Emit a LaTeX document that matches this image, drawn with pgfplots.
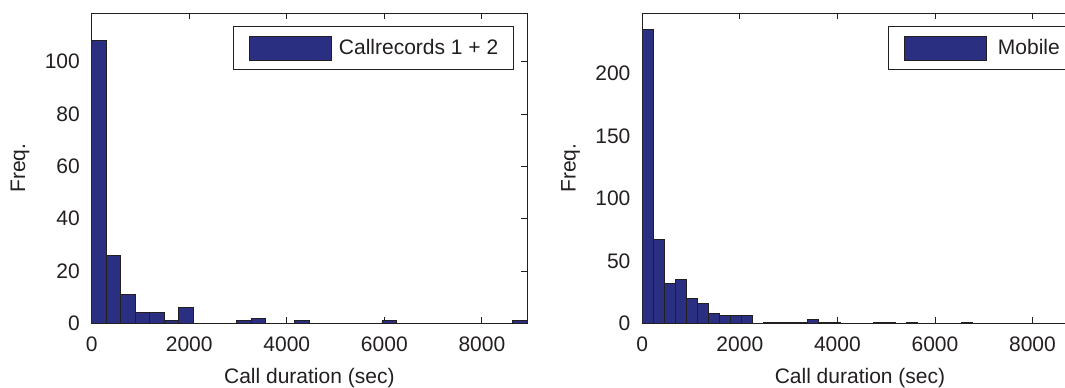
\documentclass[border=0pt]{standalone}
\usepackage{fontspec}
\setmainfont{Liberation Sans}
\usepackage{pgfplots}
\pgfplotsset{compat=1.18}
\definecolor{barblue}{RGB}{43,47,130}
\definecolor{ink}{RGB}{35,31,32}
\pgfplotsset{
  mystyle/.style={
    scale only axis,
    width=435.3pt, height=310pt,
    xmin=0, xmax=8925,
    ymin=0,
    axis line style={draw=ink, line width=0.9pt},
    tick style={draw=ink, line width=0.8pt},
    tick align=inside,
    major tick length=6pt,
    xtick={0,2000,4000,6000,8000},
    font=\fontsize{21}{25}\selectfont,
    color=ink,
    /pgf/number format/assume math mode=true,
    /pgf/number format/set thousands separator={},
    xticklabel style={anchor=base, yshift=-28.4pt, inner sep=0pt, font=\fontsize{21}{25}\selectfont},
    yticklabel style={anchor=east, xshift=-11.7pt, inner sep=0pt, font=\fontsize{21}{25}\selectfont},
    every axis x label/.style={at={(axis description cs:0.5,-0.1926)}, anchor=base, inner sep=0pt},
    every axis y label/.style={at={(axis description cs:-0.1532,0.5)}, anchor=base, rotate=90, inner sep=0pt},
    xlabel={Call duration (sec)},
    ylabel={Freq.},
    legend style={draw=ink, line width=0.9pt, inner xsep=15.5pt, inner ysep=9pt,
      font=\fontsize{21}{25}\selectfont, text=ink, cells={anchor=west},
      nodes={inner sep=0pt}},
  }
}
\begin{document}
\begin{tikzpicture}
\begin{axis}[mystyle, at={(91.7pt,64.7pt)}, anchor=south west,
  ymax=118.5, ytick={0,20,40,60,80,100},
  legend style={at={(axis description cs:0.3253,0.9587)}, anchor=north west},
  legend image code/.code={%
      \draw[fill=barblue, draw=ink, line width=0.7pt] (0pt,-12.15pt) rectangle (81.7pt,12.15pt);
      \path (89pt,0pt);}]
\addplot[ybar interval, fill=barblue, draw=ink, line width=0.7pt] coordinates {
(0,108) (297.5,26) (595,11) (892.5,4) (1190,4) (1487.5,1) (1785,6) (2082.5,0)
(2380,0) (2677.5,0) (2975,1) (3272.5,2) (3570,0) (3867.5,0) (4165,1) (4462.5,0)
(4760,0) (5057.5,0) (5355,0) (5652.5,0) (5950,1) (6247.5,0) (6545,0) (6842.5,0)
(7140,0) (7437.5,0) (7735,0) (8032.5,0) (8330,0) (8627.5,1) (8925,1)};
\addlegendentry{Callrecords 1 + 2}
\end{axis}
\begin{axis}[mystyle, at={(642.3pt,64.7pt)}, anchor=south west,
  ymax=248, ytick={0,50,100,150,200},
  legend style={at={(axis description cs:0.5651,0.9587)}, anchor=north west},
  legend image code/.code={%
      \draw[fill=barblue, draw=ink, line width=0.7pt] (0pt,-12.15pt) rectangle (81.7pt,12.15pt);
      \path (93pt,0pt);}]
\addplot[ybar interval, fill=barblue, draw=ink, line width=0.7pt] coordinates {
(0,235) (225.3,67) (450.7,32) (676,35) (901.3,20) (1126.7,16) (1352,8) (1577.3,6)
(1802.7,6) (2028,6) (2253.3,0) (2478.7,1) (2704,1) (2929.3,1) (3154.7,1) (3380,3)
(3605.3,1) (3830.7,1) (4056,0) (4281.3,0) (4506.7,0) (4732,1) (4957.3,1) (5182.7,0)
(5408,1) (5633.3,0) (5858.7,0) (6084,0) (6309.3,0) (6534.7,1) (6760,1)};
\addlegendentry{Mobile}
\end{axis}
\pgfresetboundingbox
\path (0pt,0pt) rectangle (1065pt,388pt);
\end{tikzpicture}
\end{document}
